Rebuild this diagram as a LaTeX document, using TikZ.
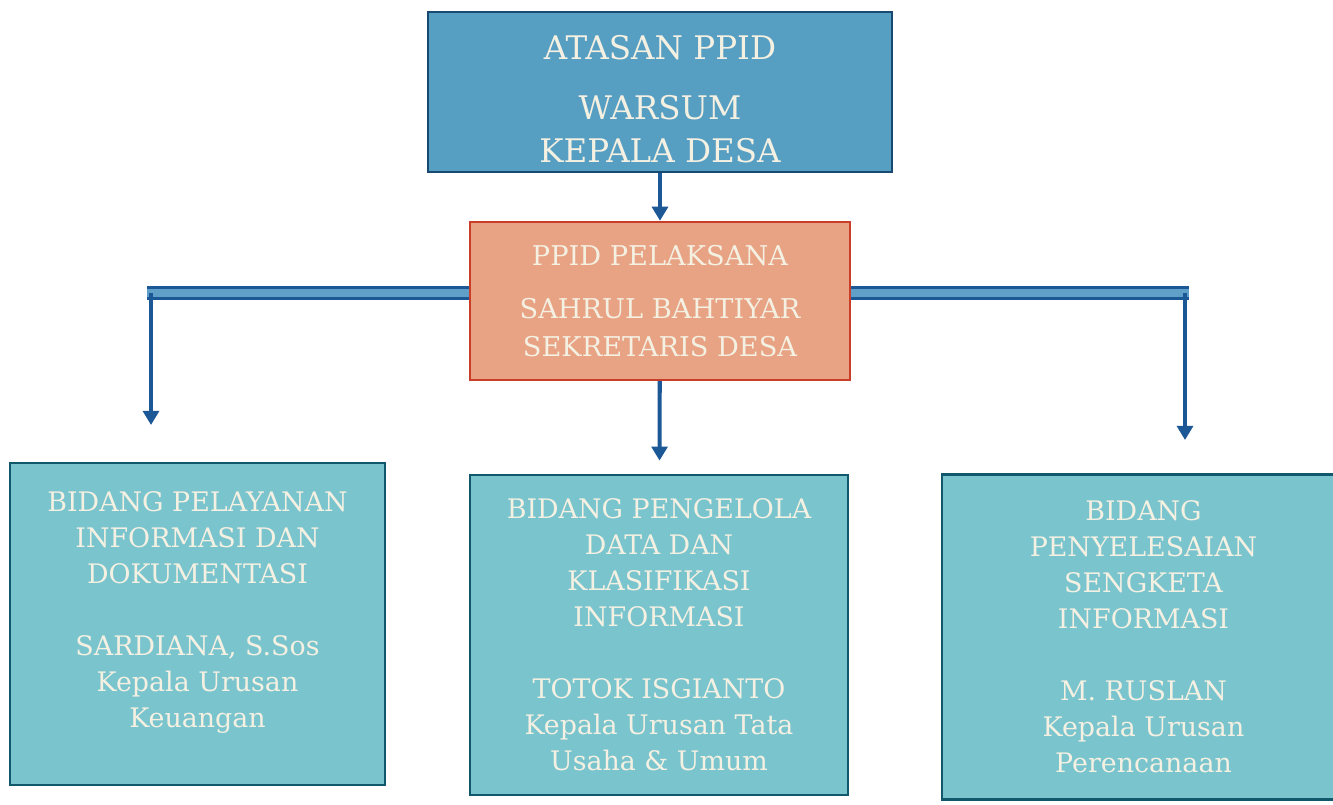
\documentclass[tikz,border=0pt]{standalone}
\usepackage{fontspec}
\setmainfont{DejaVu Serif}
\usepackage{tikz}
\usetikzlibrary{arrows.meta}

\definecolor{atasanfill}{RGB}{86,158,194}
\definecolor{atasanline}{RGB}{22,74,112}
\definecolor{pelaksanafill}{RGB}{232,162,132}
\definecolor{pelaksanaline}{RGB}{200,62,40}
\definecolor{bidangfill}{RGB}{122,196,206}
\definecolor{bidangline}{RGB}{18,88,108}
\definecolor{textcream}{RGB}{244,240,226}
\definecolor{arrowblue}{RGB}{28,88,150}
\definecolor{barlight}{RGB}{96,160,200}

\tikzset{
    boxtop/.style={draw=atasanline, line width=1.6pt, fill=atasanfill, text=textcream,
        align=center, font=\fontsize{18.5}{24.5}\selectfont, inner sep=0pt},
    boxmid/.style={draw=pelaksanaline, line width=1.4pt, fill=pelaksanafill, text=textcream,
        align=center, font=\fontsize{15.5}{21.5}\selectfont, inner sep=0pt},
    boxbidang/.style={draw=bidangline, line width=1.6pt, fill=bidangfill, text=textcream,
        align=center, font=\fontsize{15.3}{20.5}\selectfont, inner sep=0pt},
    link/.style={arrowblue, line width=2.3pt, -{Triangle[length=8pt,width=9pt]}},
    bar/.style={draw=arrowblue, line width=1.6pt, double=barlight, double distance=4.8pt}
}

\begin{document}
\begin{tikzpicture}
    \useasboundingbox (0,0) rectangle (26.66,-16.1);

    % Draw boxes
    \node[boxtop, minimum width=9.28cm, minimum height=3.2cm] (atasan) at (13.2,-1.84)
        {\rule{0pt}{22pt}ATASAN PPID\\[10pt] WARSUM\\ KEPALA DESA};
    \node[boxmid, minimum width=7.6cm, minimum height=3.16cm] (pelaksana) at (13.2,-6.02)
        {PPID PELAKSANA\\[9pt] SAHRUL BAHTIYAR\\ SEKRETARIS DESA};

    \node[boxbidang, minimum width=7.5cm, minimum height=6.44cm] (layanan) at (3.95,-12.48)
        {BIDANG PELAYANAN\\ INFORMASI DAN\\ DOKUMENTASI\\ \\ SARDIANA, S.Sos\\ Kepala Urusan\\ Keuangan\\[-4pt] \mbox{}};
    \node[boxbidang, minimum width=7.56cm, minimum height=6.4cm] (kelola) at (13.18,-12.7)
        {BIDANG PENGELOLA\\ DATA DAN\\ KLASIFIKASI\\ INFORMASI\\ \\ TOTOK ISGIANTO\\ Kepala Urusan Tata\\ Usaha \& Umum};
    \node[boxbidang, minimum width=8.06cm, minimum height=6.5cm] (sengketa) at (22.87,-12.74)
        {BIDANG\\ PENYELESAIAN\\ SENGKETA\\ INFORMASI\\ \\ M. RUSLAN\\ Kepala Urusan\\ Perencanaan};

    % Bend points of the side links
    \coordinate (lbend) at (3.02,-5.86);
    \coordinate (lend) at (3.02,-8.5);
    \coordinate (rbend) at (23.7,-5.86);
    \coordinate (rend) at (23.7,-8.8);

    % Draw links
    \draw[link] (atasan) -- (pelaksana);
    \draw[link, shorten >=0.26cm] (pelaksana) -- (kelola);

    \draw[bar] (pelaksana.west |- lbend) -- ([xshift=-0.08cm]lbend);
    \draw[link] (lbend) -- (lend);

    \draw[bar] (pelaksana.east |- rbend) -- ([xshift=0.08cm]rbend);
    \draw[link] (rbend) -- (rend);
\end{tikzpicture}
\end{document}
